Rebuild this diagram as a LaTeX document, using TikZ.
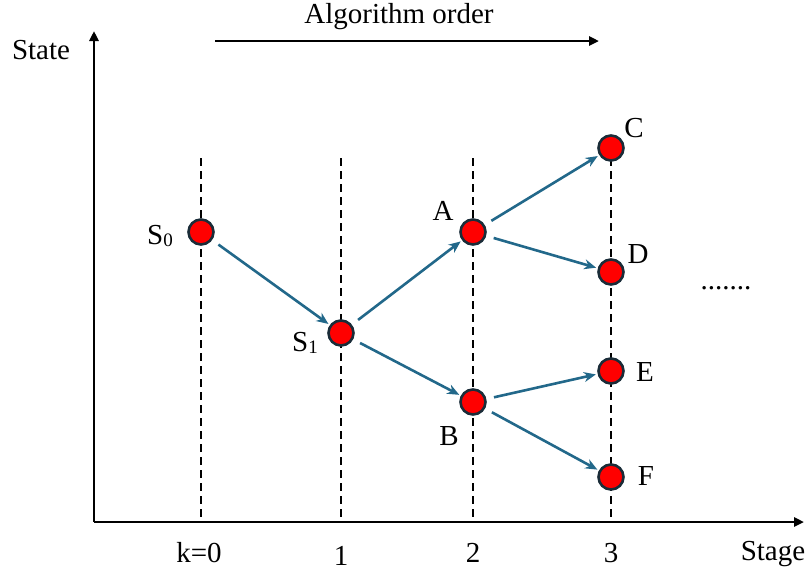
\documentclass[tikz,border=0pt]{standalone}
\usepackage{fontspec}
\setmainfont{Liberation Serif}
\usetikzlibrary{arrows.meta}
\definecolor{arrowblue}{RGB}{34,104,138}
\definecolor{rim}{RGB}{26,44,56}
\tikzset{
  state/.style={circle,fill=red,draw=rim,line width=2.6pt,minimum size=25pt,inner sep=0pt,outer sep=0pt},
  guide/.style={dash pattern=on 8pt off 5pt,line width=2.4pt,black},
  flow/.style={arrowblue,line width=2.6pt,-{Stealth[length=12pt,width=10pt]},shorten <=9pt,shorten >=3pt},
  axis/.style={line width=2.8pt,-{Triangle[length=10pt,width=9pt]}},
  lab/.style={font=\fontsize{29}{32}\selectfont,inner sep=0pt},
}
\newcommand{\Ssub}[1]{S\raisebox{-2pt}{\fontsize{19}{20}\selectfont #1}}
\begin{document}
\begin{tikzpicture}[x=1pt,y=-1pt]
\useasboundingbox (0,0) rectangle (812,579);
% axes
\coordinate (O) at (94,522);
\coordinate (Ytop) at (94,31);
\coordinate (Xend) at (804,522);
\draw[axis] (O) -- (Ytop);
\draw[axis] (O) -- (Xend);
% guides
\foreach \x/\n in {201/g0,341/g1,473/g2,611/g3}{
  \coordinate (\n t) at (\x,158);
  \coordinate (\n b) at (\x,522);
  \draw[guide] (\n t) -- (\n b);
}
% algorithm order
\coordinate (ao1) at (215,41);
\coordinate (ao2) at (599,41);
\draw[axis,line width=2.6pt] (ao1) -- (ao2);
\node[lab] (aot) at (399,17) {Algorithm order};
\node[lab] (state) at (41,50) {State};
\node[lab] (stage) at (773,554) {Stage};
\node[lab] (k0) at (199,553) {k=0};
\node[lab] (k1) at (341,556) {1};
\node[lab] (k2) at (473,553) {2};
\node[lab] (k3) at (611,553) {3};
% states
\node[state] (S0) at (201,232) {};
\node[state] (S1) at (341,333) {};
\node[state] (A) at (473,232) {};
\node[state] (B) at (473,402) {};
\node[state] (C) at (611,148) {};
\node[state] (D) at (611,272) {};
\node[state] (E) at (611,371) {};
\node[state] (F) at (611,477) {};
% labels
\node[lab] (lS0) at (160,236) {\Ssub{0}};
\node[lab] (lS1) at (305,343) {\Ssub{1}};
\node[lab] (lA) at (443,211) {A};
\node[lab] (lB) at (449,436) {B};
\node[lab] (lC) at (634,128) {C};
\node[lab] (lD) at (638,254) {D};
\node[lab] (lE) at (645,372) {E};
\node[lab] (lF) at (646,476) {F};
\node[lab] (dots) at (726,288) {.......};
% transitions
\draw[flow] (S0) -- (S1);
\draw[flow] (S1) -- (A);
\draw[flow] (S1) -- (B);
\draw[flow] (A) -- (C);
\draw[flow] (A) -- (D);
\draw[flow] (B) -- (E);
\draw[flow] (B) -- (F);
\end{tikzpicture}
\end{document}
